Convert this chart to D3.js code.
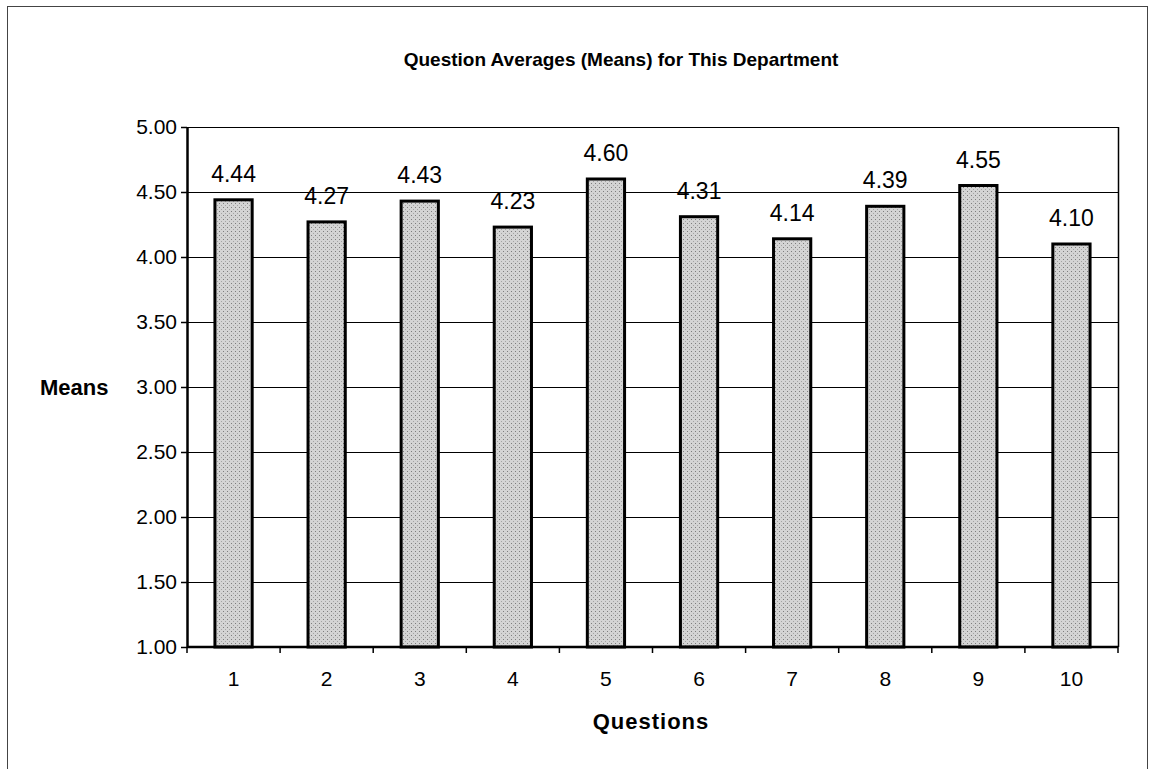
<!DOCTYPE html>
<html>
<head>
<meta charset="utf-8">
<script src="https://cdn.jsdelivr.net/npm/d3@7/dist/d3.min.js"></script>
<style>
  body { margin: 0; background: #fff; }
  text { font-family: Arial, "Liberation Sans", sans-serif; fill: #000; }
</style>
</head>
<body>
<div id="chart"></div>
<script>
var questions = ['1', '2', '3', '4', '5', '6', '7', '8', '9', '10'];
var means = [4.44, 4.27, 4.43, 4.23, 4.60, 4.31, 4.14, 4.39, 4.55, 4.10];
var yTicks = [1.00, 1.50, 2.00, 2.50, 3.00, 3.50, 4.00, 4.50, 5.00];

var width = 1149, height = 769;
var margin = { top: 127, right: 31, bottom: 122, left: 187 };
var innerW = width - margin.left - margin.right;
var innerH = height - margin.top - margin.bottom;

var svg = d3.select('#chart')
  .append('svg')
  .attr('width', width)
  .attr('height', height);

// chart frame
svg.append('rect')
  .attr('x', 7.5).attr('y', 6.5)
  .attr('width', 1140).attr('height', 800)
  .attr('fill', 'none')
  .attr('stroke', '#444')
  .attr('stroke-width', 1);

// stipple pattern for the bars
var defs = svg.append('defs');
var pat = defs.append('pattern')
  .attr('id', 'stipple')
  .attr('width', 4).attr('height', 4)
  .attr('patternUnits', 'userSpaceOnUse');
pat.append('rect').attr('width', 4).attr('height', 4).attr('fill', '#d4d4d4');
pat.append('rect').attr('x', 0).attr('y', 0).attr('width', 1).attr('height', 1).attr('fill', '#7e7e7e');
pat.append('rect').attr('x', 2).attr('y', 2).attr('width', 1).attr('height', 1).attr('fill', '#a4a4a4');

var chart = svg.append('g')
  .attr('transform', 'translate(' + margin.left + ',' + margin.top + ')');

var xScale = d3.scaleBand()
  .domain(questions)
  .range([0, innerW])
  .paddingInner(0.6)
  .paddingOuter(0.3);

var yScale = d3.scaleLinear()
  .domain([1, 5])
  .range([innerH, 0]);

// gridlines
chart.selectAll('.grid')
  .data(yTicks.slice(1))
  .enter()
  .append('line')
  .attr('class', 'grid')
  .attr('x1', 0).attr('x2', innerW)
  .attr('y1', function(d) { return Math.round(yScale(d)) + 0.5; })
  .attr('y2', function(d) { return Math.round(yScale(d)) + 0.5; })
  .attr('stroke', '#000')
  .attr('stroke-width', 1);

// plot area right edge
chart.append('line')
  .attr('x1', innerW + 0.5).attr('x2', innerW + 0.5)
  .attr('y1', 0).attr('y2', innerH)
  .attr('stroke', '#000')
  .attr('stroke-width', 1.5);

// bars
chart.selectAll('.bar')
  .data(means)
  .enter()
  .append('rect')
  .attr('class', 'bar')
  .attr('x', function(d, i) { return xScale(questions[i]); })
  .attr('y', function(d) { return yScale(d); })
  .attr('width', xScale.bandwidth())
  .attr('height', function(d) { return innerH - yScale(d); })
  .attr('fill', 'url(#stipple)')
  .attr('stroke', '#000')
  .attr('stroke-width', 3);

// value labels
chart.selectAll('.value')
  .data(means)
  .enter()
  .append('text')
  .attr('class', 'value')
  .attr('x', function(d, i) { return xScale(questions[i]) + xScale.bandwidth() / 2; })
  .attr('y', function(d) { return yScale(d) - 18; })
  .attr('text-anchor', 'middle')
  .style('font-size', '23px')
  .text(function(d) { return d.toFixed(2); });

// Y axis
var yAxis = d3.axisLeft(yScale)
  .tickValues(yTicks)
  .tickFormat(d3.format('.2f'))
  .tickSize(6)
  .tickPadding(4)
  .tickSizeOuter(0);
var gy = chart.append('g').call(yAxis);
gy.select('.domain').attr('stroke', '#000').attr('stroke-width', 2.5);
gy.selectAll('.tick line').attr('stroke', '#000').attr('stroke-width', 1.5);
gy.selectAll('.tick text')
  .style('font-size', '21px')
  .style('font-family', 'Arial, "Liberation Sans", sans-serif');

// X axis with ticks between categories
var xAxisG = chart.append('g').attr('transform', 'translate(0,' + innerH + ')');
xAxisG.append('line')
  .attr('x1', 0).attr('x2', innerW)
  .attr('y1', 0).attr('y2', 0)
  .attr('stroke', '#000')
  .attr('stroke-width', 2.5);
var step = xScale.step();
xAxisG.selectAll('.xtick')
  .data(d3.range(questions.length + 1))
  .enter()
  .append('line')
  .attr('class', 'xtick')
  .attr('x1', function(i) { return xScale(questions[0]) - step * xScale.paddingInner() / 2 + i * step; })
  .attr('x2', function(i) { return xScale(questions[0]) - step * xScale.paddingInner() / 2 + i * step; })
  .attr('y1', 0).attr('y2', 6)
  .attr('stroke', '#000')
  .attr('stroke-width', 1.5);
xAxisG.selectAll('.xlabel')
  .data(questions)
  .enter()
  .append('text')
  .attr('class', 'xlabel')
  .attr('x', function(d) { return xScale(d) + xScale.bandwidth() / 2; })
  .attr('y', 39)
  .attr('text-anchor', 'middle')
  .style('font-size', '21px')
  .text(function(d) { return d; });

// Titles
svg.append('text')
  .attr('x', 621).attr('y', 66)
  .attr('text-anchor', 'middle')
  .style('font-size', '19px')
  .style('font-weight', 'bold')
  .text('Question Averages (Means) for This Department');

svg.append('text')
  .attr('x', 651).attr('y', 729)
  .attr('text-anchor', 'middle')
  .style('font-size', '22px')
  .style('font-weight', 'bold')
  .style('letter-spacing', '1px')
  .text('Questions');

svg.append('text')
  .attr('x', 40).attr('y', 395)
  .style('font-size', '22px')
  .style('font-weight', 'bold')
  .text('Means');
</script>
</body>
</html>
